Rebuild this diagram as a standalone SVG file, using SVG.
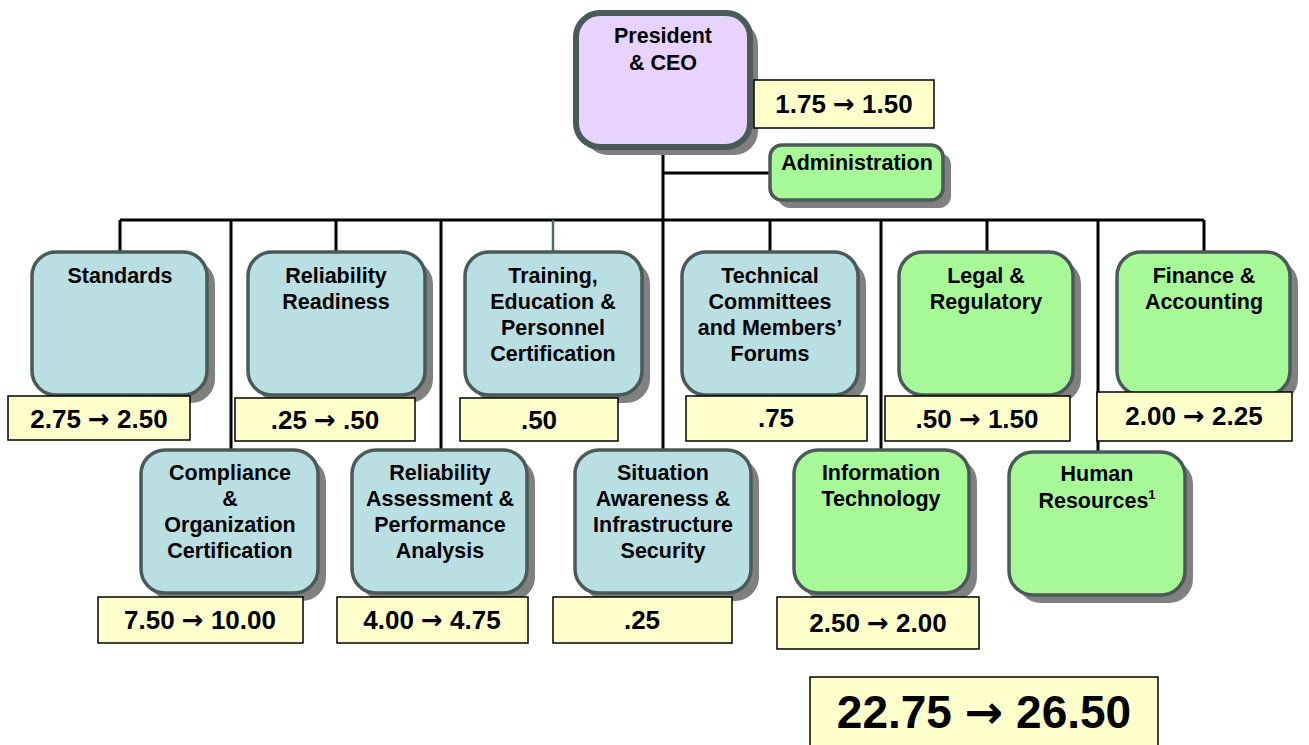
<svg xmlns="http://www.w3.org/2000/svg" width="1309" height="745" viewBox="0 0 1309 745">
<style>
text{font-family:"Liberation Sans",Arial,sans-serif;font-weight:bold;fill:#000;text-anchor:middle}
.lbl{font-size:21.5px}
.num{font-size:26px}
.big{font-size:46px}
.ar{font-family:"DejaVu Sans",sans-serif;font-weight:bold}
.sh{fill:#808080}
.blue{fill:#b9dfe2;stroke:#4b5959;stroke-width:3.5}
.green{fill:#a6f996;stroke:#4b5959;stroke-width:3.5}
.ceo{fill:#e8d3ff;stroke:#4b5959;stroke-width:6}
.val{fill:#ffffcc;stroke:#000;stroke-width:1.5}
.ln{stroke:#000;stroke-width:3;fill:none}
.ln2{stroke:#4f6a6a;stroke-width:2.5;fill:none}
</style>
<rect width="1309" height="745" fill="#fff"/>
<g id="connectors">
<path class="ln" d="M663 147V450M663 173H770M120 220H1204"/>
<path class="ln" d="M120 220V253M231 220V451M336 220V253M441 220V451M770 220V253M881 220V451M987 220V253M1098 220V453M1204 220V253"/>
<path class="ln2" d="M553 220V253"/>
</g>
<g id="ceo">
<rect class="sh" x="584" y="21" width="174" height="134" rx="24"/>
<rect class="ceo" x="576" y="13" width="174" height="134" rx="24"/>
<text class="lbl" x="663" y="43">President</text>
<text class="lbl" x="663" y="70">&amp; CEO</text>
<rect class="val" x="754" y="80" width="180" height="48"/>
<text class="num" x="844" y="113">1.75 <tspan class="ar">→</tspan> 1.50</text>
</g>
<g id="administration">
<rect class="sh" x="778" y="153" width="173" height="55" rx="12"/>
<rect class="green" x="770" y="145" width="173" height="55" rx="12"/>
<text class="lbl" x="857" y="170">Administration</text>
</g>
<g id="standards">
<rect class="sh" x="40" y="260" width="175" height="143" rx="24"/>
<rect class="blue" x="32" y="252" width="175" height="143" rx="24"/>
<text class="lbl" x="120" y="283">Standards</text>
<rect class="val" x="8" y="396" width="182" height="44"/>
<text class="num" x="99" y="428">2.75 <tspan class="ar">→</tspan> 2.50</text>
</g>
<g id="reliability-readiness">
<rect class="sh" x="256" y="260" width="177" height="143" rx="24"/>
<rect class="blue" x="248" y="252" width="177" height="143" rx="24"/>
<text class="lbl" x="336" y="283">Reliability</text>
<text class="lbl" x="336" y="309">Readiness</text>
<rect class="val" x="235" y="398" width="180" height="43"/>
<text class="num" x="325" y="429">.25 <tspan class="ar">→</tspan> .50</text>
</g>
<g id="training">
<rect class="sh" x="473" y="260" width="177" height="143" rx="24"/>
<rect class="blue" x="465" y="252" width="177" height="143" rx="24"/>
<text class="lbl" x="553" y="283">Training,</text>
<text class="lbl" x="553" y="309">Education &amp;</text>
<text class="lbl" x="553" y="335">Personnel</text>
<text class="lbl" x="553" y="361">Certification</text>
<rect class="val" x="460" y="398" width="158" height="43"/>
<text class="num" x="539" y="429">.50</text>
</g>
<g id="technical-committees">
<rect class="sh" x="690" y="260" width="176" height="143" rx="24"/>
<rect class="blue" x="682" y="252" width="176" height="143" rx="24"/>
<text class="lbl" x="770" y="283">Technical</text>
<text class="lbl" x="770" y="309">Committees</text>
<text class="lbl" x="770" y="335">and Members’</text>
<text class="lbl" x="770" y="361">Forums</text>
<rect class="val" x="686" y="396" width="181" height="45"/>
<text class="num" x="776" y="427">.75</text>
</g>
<g id="legal">
<rect class="sh" x="907" y="260" width="174" height="143" rx="24"/>
<rect class="green" x="899" y="252" width="174" height="143" rx="24"/>
<text class="lbl" x="986" y="283">Legal &amp;</text>
<text class="lbl" x="986" y="309">Regulatory</text>
<rect class="val" x="885" y="396" width="185" height="45"/>
<text class="num" x="977" y="428">.50 <tspan class="ar">→</tspan> 1.50</text>
</g>
<g id="finance">
<rect class="sh" x="1125" y="260" width="173" height="143" rx="24"/>
<rect class="green" x="1117" y="252" width="173" height="143" rx="24"/>
<text class="lbl" x="1204" y="283">Finance &amp;</text>
<text class="lbl" x="1204" y="309">Accounting</text>
<rect class="val" x="1097" y="392" width="195" height="49"/>
<text class="num" x="1194" y="425">2.00 <tspan class="ar">→</tspan> 2.25</text>
</g>
<g id="compliance">
<rect class="sh" x="149" y="458" width="177" height="143" rx="24"/>
<rect class="blue" x="141" y="450" width="177" height="143" rx="24"/>
<text class="lbl" x="230" y="480">Compliance</text>
<text class="lbl" x="230" y="506">&amp;</text>
<text class="lbl" x="230" y="532">Organization</text>
<text class="lbl" x="230" y="558">Certification</text>
<rect class="val" x="98" y="597" width="205" height="46"/>
<text class="num" x="200" y="629">7.50 <tspan class="ar">→</tspan> 10.00</text>
</g>
<g id="reliability-assessment">
<rect class="sh" x="360" y="458" width="175" height="143" rx="24"/>
<rect class="blue" x="352" y="450" width="175" height="143" rx="24"/>
<text class="lbl" x="440" y="480">Reliability</text>
<text class="lbl" x="440" y="506">Assessment &amp;</text>
<text class="lbl" x="440" y="532">Performance</text>
<text class="lbl" x="440" y="558">Analysis</text>
<rect class="val" x="337" y="597" width="191" height="46"/>
<text class="num" x="432" y="629">4.00 <tspan class="ar">→</tspan> 4.75</text>
</g>
<g id="situation-awareness">
<rect class="sh" x="583" y="458" width="176" height="143" rx="24"/>
<rect class="blue" x="575" y="450" width="176" height="143" rx="24"/>
<text class="lbl" x="663" y="480">Situation</text>
<text class="lbl" x="663" y="506">Awareness &amp;</text>
<text class="lbl" x="663" y="532">Infrastructure</text>
<text class="lbl" x="663" y="558">Security</text>
<rect class="val" x="553" y="597" width="179" height="46"/>
<text class="num" x="642" y="629">.25</text>
</g>
<g id="information-technology">
<rect class="sh" x="802" y="458" width="175" height="143" rx="24"/>
<rect class="green" x="794" y="450" width="175" height="143" rx="24"/>
<text class="lbl" x="881" y="480">Information</text>
<text class="lbl" x="881" y="506">Technology</text>
<rect class="val" x="777" y="597" width="202" height="52"/>
<text class="num" x="878" y="632">2.50 <tspan class="ar">→</tspan> 2.00</text>
</g>
<g id="human-resources">
<rect class="sh" x="1017" y="460" width="176" height="143" rx="24"/>
<rect class="green" x="1009" y="452" width="176" height="143" rx="24"/>
<text class="lbl" x="1097" y="481">Human</text>
<text class="lbl" x="1097" y="508">Resources<tspan font-size="13" dy="-9">1</tspan></text>
</g>
<g id="total">
<rect class="val" x="810" y="677" width="348" height="75"/>
<text class="big" x="984" y="728">22.75 <tspan class="ar">→</tspan> 26.50</text>
</g>
</svg>
